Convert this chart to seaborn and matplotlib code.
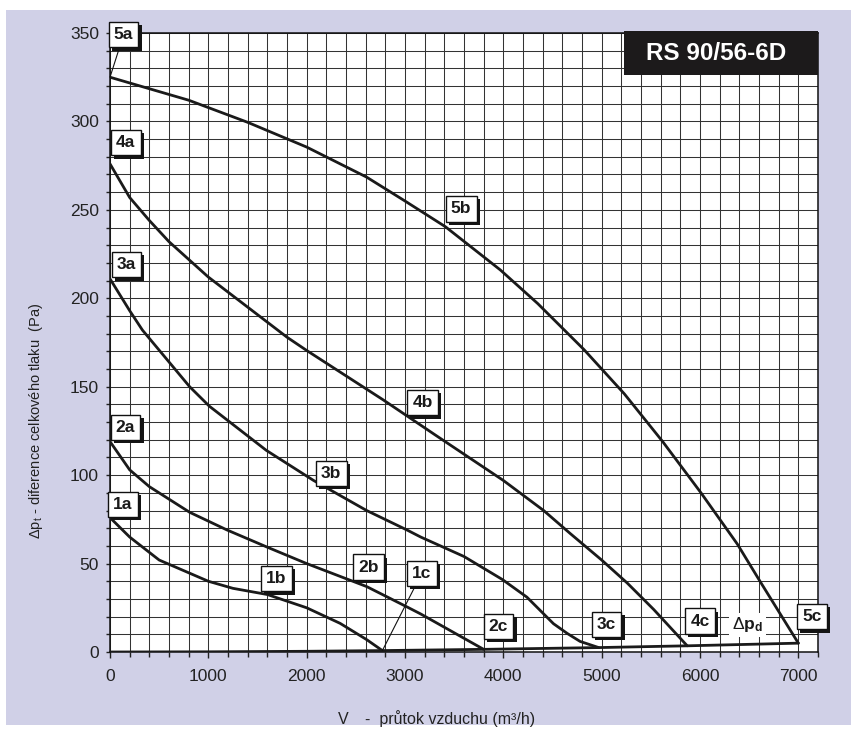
import numpy as np
import pandas as pd
import matplotlib
matplotlib.use("Agg")
import matplotlib.pyplot as plt
import matplotlib.patheffects as pe
from matplotlib.patches import Rectangle
from matplotlib.ticker import MultipleLocator, FixedLocator
import seaborn as sns

# Fan characteristic RS 90/56-6D: total pressure vs. air flow, speed steps 1..5
curve1_v = [0, 200, 500, 1000, 1250, 1600, 2000, 2340, 2610, 2770]
curve1_p = [76, 65, 52, 40, 36, 32.5, 25, 16.2, 7, 0.8]

curve2_v = [0, 200, 400, 810, 1190, 1590, 2000, 2610, 3020, 3160, 3560, 3800]
curve2_p = [119, 103, 93.5, 79, 69, 59.5, 50, 37, 25.5, 21.5, 9, 1.5]

curve3_v = [0, 200, 330, 810, 1010, 1590, 2070, 2610, 3020, 3160, 3600, 3990, 4240, 4510, 4650, 4780, 4970]
curve3_p = [211, 193, 182, 150, 139, 114, 97, 80, 69, 65, 54, 41, 31, 16, 10.5, 6, 2.5]

curve4_v = [0, 200, 400, 600, 800, 1000, 1400, 1800, 2000, 2780, 3300, 4000, 4410, 4680, 5000, 5260, 5530, 5870]
curve4_p = [276, 257, 244, 232, 222, 212, 195, 178, 170.5, 142.5, 123, 97, 80, 67, 52, 39, 24, 3.5]

curve5_v = [0, 800, 1400, 2000, 2610, 3000, 3410, 3970, 4350, 4820, 5230, 5620, 6010, 6380, 6610, 7000]
curve5_p = [325, 312, 299.5, 285.5, 268.5, 255, 240.5, 216, 197, 171, 146, 119, 90, 61, 40, 5]

# dynamic pressure line
pd_v = [0, 1000, 2000, 2770, 3800, 4970, 5870, 7000]
pd_p = [0, 0.1, 0.4, 0.8, 1.5, 2.5, 3.5, 5.0]

# curve tags
tag_text = ["5a", "4a", "3a", "2a", "1a", "5b", "4b", "3b", "2b", "1b", "1c", "2c", "3c", "4c", "5c"]
tag_v = [138, 160, 167, 157, 132, 3570, 3180, 2250, 2630, 1690, 3170, 3950, 5050, 6000, 7140]
tag_p = [349, 288, 219, 127, 83.5, 250.5, 141, 101, 48, 41.5, 44.5, 14.5, 15.5, 17.5, 20]

x_ticks = [0, 1000, 2000, 3000, 4000, 5000, 6000, 7000]
y_ticks = [0, 50, 100, 150, 200, 250, 300, 350]

title = "RS 90/56-6D"
x_symbol = "V"
x_label = "-  průtok vzduchu (m³/h)"
y_label = r"$\Delta$p$_\mathregular{t}$ - diference celkového tlaku  (Pa)"

sns.set_theme(style="ticks")
plt.rcParams["font.family"] = ["Liberation Sans", "DejaVu Sans"]
plt.rcParams["mathtext.fontset"] = "custom"
plt.rcParams["mathtext.rm"] = "Liberation Sans"
plt.rcParams["mathtext.bf"] = "Liberation Sans:bold"
plt.rcParams["mathtext.it"] = "Liberation Sans:italic"

W, H = 851, 731
fig = plt.figure(figsize=(W / 100, H / 100), dpi=100)
fig.patch.set_facecolor("white")

def fx(px):
    return px / W

def fy(py):
    return 1 - py / H

# lavender panel
fig.add_artist(Rectangle((fx(6), fy(725)), fx(851) - fx(6), fy(10) - fy(725),
                         transform=fig.transFigure, fc="#D0D0E7", ec="none", zorder=-10))

ax = fig.add_axes([fx(110), fy(652), fx(818) - fx(110), fy(33) - fy(652)])
ax.set_facecolor("white")

frames = []
for name, v, p in [("1", curve1_v, curve1_p), ("2", curve2_v, curve2_p),
                   ("3", curve3_v, curve3_p), ("4", curve4_v, curve4_p),
                   ("5", curve5_v, curve5_p), ("pd", pd_v, pd_p)]:
    frames.append(pd.DataFrame({"V": v, "p": p, "curve": name}))
data = pd.concat(frames, ignore_index=True)

sns.lineplot(data=data, x="V", y="p", units="curve", estimator=None, sort=False,
             color="#1a1a1a", lw=2.0, ax=ax, zorder=3, legend=False)
for ln in ax.get_lines():
    ln.set_solid_joinstyle("round")
    ln.set_solid_capstyle("round")

ax.set_xlim(0, 7200)
ax.set_ylim(0, 350)
ax.xaxis.set_major_locator(FixedLocator(x_ticks))
ax.xaxis.set_minor_locator(MultipleLocator(200))
ax.yaxis.set_major_locator(FixedLocator(y_ticks))
ax.yaxis.set_minor_locator(MultipleLocator(10))
ax.set_xticklabels([str(t) for t in x_ticks])
ax.set_yticklabels([str(t) for t in y_ticks])
ax.grid(which="both", color="#333333", lw=0.75)
ax.set_axisbelow(True)
for s in ax.spines.values():
    s.set_color("#111111")
    s.set_linewidth(1.1)
ax.tick_params(axis="x", which="major", direction="out", length=4.5, width=1, pad=8,
               labelsize=12.5, colors="#222222")
ax.tick_params(axis="x", which="minor", direction="out", length=3.5, width=1, colors="#222222")
ax.tick_params(axis="y", which="major", direction="out", length=3, width=1, pad=5,
               labelsize=12.5, colors="#222222")
ax.tick_params(axis="y", which="minor", direction="out", length=3, width=1, colors="#222222")
ax.set_xlabel("")
ax.set_ylabel("")

# leader lines from tags 5a and 1c
ax.annotate("", xy=(curve5_v[0], curve5_p[0]), xytext=(tag_v[0], tag_p[0]),
            arrowprops=dict(arrowstyle="-", lw=0.8, color="#111111", shrinkA=0, shrinkB=0),
            zorder=4, annotation_clip=False)
ax.annotate("", xy=(curve1_v[-1], curve1_p[-1]), xytext=(tag_v[10], tag_p[10]),
            arrowprops=dict(arrowstyle="-", lw=0.8, color="#111111", shrinkA=0, shrinkB=0),
            zorder=4, annotation_clip=False)

# tags with drop shadow
for s, v, p in zip(tag_text, tag_v, tag_p):
    t = ax.text(v, p, s, ha="center", va="center", fontsize=12.5, fontweight="bold",
                color="#1a1a1a", zorder=6, clip_on=False,
                bbox=dict(boxstyle="square,pad=0.3", fc="white", ec="#111111", lw=1))
    t.get_bbox_patch().set_path_effects([
        pe.SimplePatchShadow(offset=(2.3, -2.3), shadow_rgbFace="#141414", alpha=1.0),
        pe.Normal()])

# dynamic pressure label
ax.text(6484, 15.3, r"$\Delta\mathbf{p}_\mathbf{d}$", ha="center", va="center",
        fontsize=12.5, color="#1a1a1a", zorder=6,
        bbox=dict(boxstyle="square,pad=0.15", fc="white", ec="none"))

# title box
ax.add_patch(Rectangle((fx(624), fy(75)), fx(818) - fx(624), fy(31) - fy(75),
                       transform=fig.transFigure, fc="#1c1a1b", ec="none",
                       zorder=7, clip_on=False))
fig.text(fx(716), fy(53), title, ha="center", va="center", fontsize=17.5,
         fontweight="bold", color="white", zorder=8)

fig.text(fx(36), fy(421), y_label, rotation=90, ha="center", va="center",
         fontsize=10.5, color="#222222")
fig.text(fx(338), fy(719), x_symbol, ha="left", va="center", fontsize=11.5, color="#222222")
fig.text(fx(365), fy(719), x_label, ha="left", va="center", fontsize=11.5, color="#222222")

fig.savefig("out.png", dpi=100, facecolor=fig.get_facecolor())
